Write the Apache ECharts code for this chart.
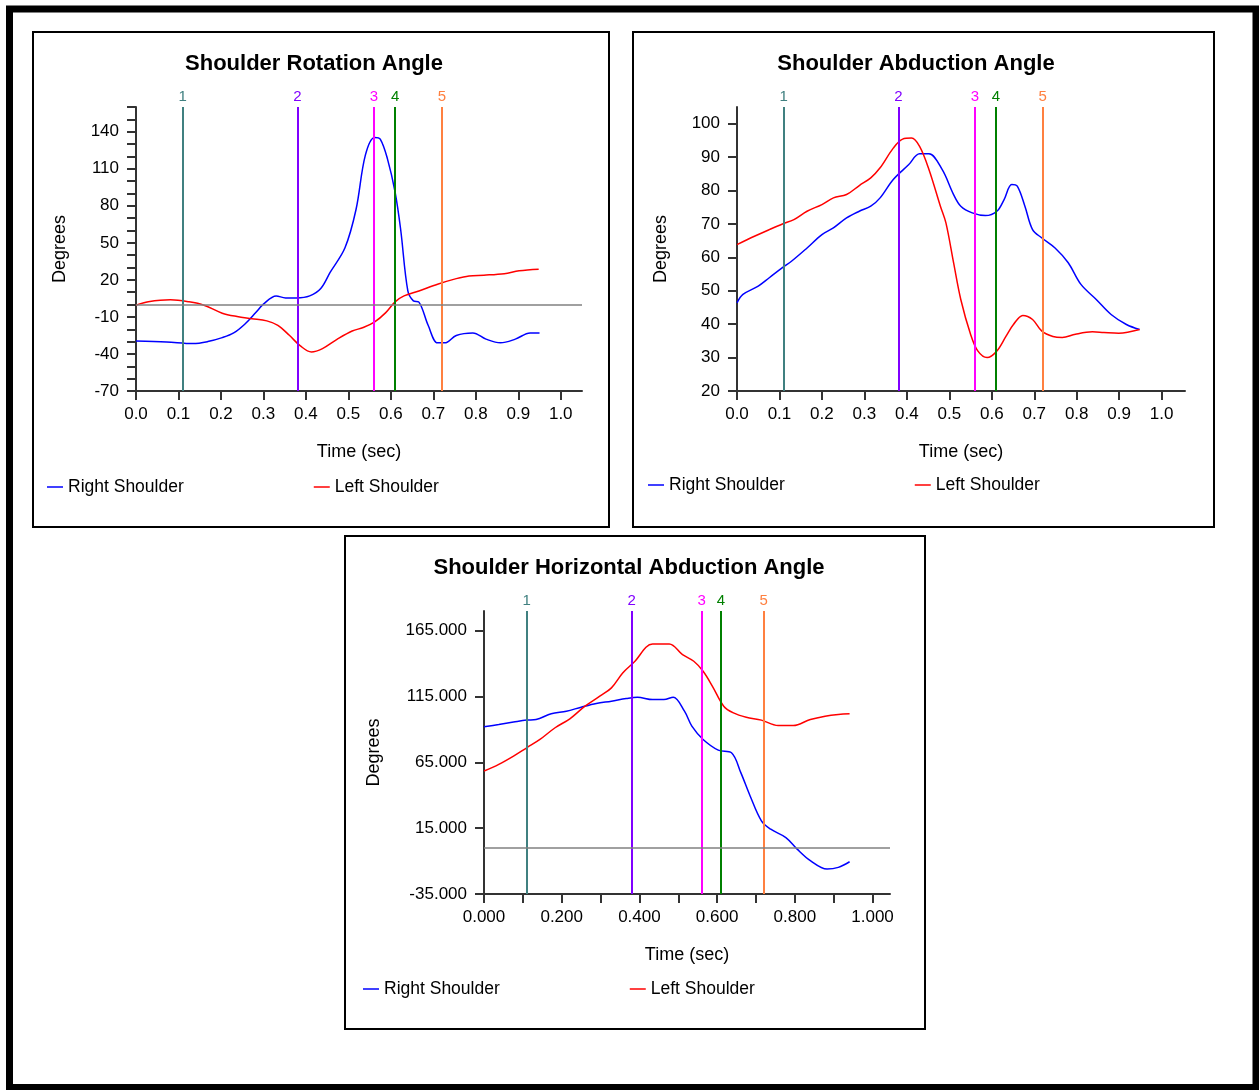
<!DOCTYPE html>
<html>
<head>
<meta charset="utf-8">
<title>Shoulder Angles</title>
<script src="https://cdn.jsdelivr.net/npm/echarts@6/dist/echarts.min.js"></script>
<style>
  html, body { margin: 0; padding: 0; background: #fff; }
  #chart { width: 1259px; height: 1090px; }
</style>
</head>
<body>
<div id="chart"></div>
<script>
  // event markers (sec)
  var eventTimes = [0.107, 0.382, 0.565, 0.610, 0.716];
  var eventNames = ['1', '2', '3', '4', '5'];
  var eventColors = ['#408080', '#8000ff', '#ff00ff', '#008000', '#ff8040'];

  // Shoulder Rotation Angle
  var rotationRight = [[0, -29.5], [0.072, -30.3], [0.134, -31.6], [0.169, -30], [0.203, -26.8], [0.23, -23],
    [0.256, -16], [0.282, -6.5], [0.3, 0.3], [0.33, 7], [0.352, 5.4], [0.378, 5.4], [0.409, 7], [0.435, 13],
    [0.457, 26], [0.492, 46], [0.518, 77], [0.54, 121], [0.562, 135.4], [0.575, 134], [0.592, 118], [0.61, 91],
    [0.623, 61], [0.64, 11], [0.653, 3], [0.666, 2], [0.688, -17], [0.71, -31], [0.727, -31], [0.754, -25],
    [0.793, -23], [0.824, -28], [0.858, -31], [0.893, -28], [0.928, -23], [0.95, -23]];
  var rotationLeft = [[0, -0.5], [0.029, 2.2], [0.081, 3.8], [0.125, 2.2], [0.16, -0.5], [0.203, -7], [0.238, -9.7],
    [0.273, -11.4], [0.308, -13.2], [0.334, -16.8], [0.361, -24.9], [0.387, -33.5], [0.413, -38.4], [0.439, -35.7],
    [0.474, -28], [0.509, -21.4], [0.535, -18.6], [0.562, -14], [0.588, -6.5], [0.61, 2.2], [0.631, 7], [0.666, 11],
    [0.71, 16.5], [0.754, 21], [0.784, 23.2], [0.819, 23.8], [0.867, 25], [0.902, 27.3], [0.948, 28.6]];

  // Shoulder Abduction Angle
  var abductionRight = [[0, 46.4], [0.014, 48.9], [0.05, 51.4], [0.076, 53.9], [0.107, 56.9], [0.129, 58.9],
    [0.165, 62.8], [0.2, 66.8], [0.227, 68.8], [0.258, 71.8], [0.288, 73.8], [0.315, 75.3], [0.337, 77.8],
    [0.368, 83.3], [0.404, 87.7], [0.43, 91], [0.452, 91], [0.483, 86.3], [0.51, 78.8], [0.527, 75.3],
    [0.554, 73.3], [0.585, 72.5], [0.612, 73.8], [0.629, 77.3], [0.647, 81.8], [0.66, 81.3], [0.678, 75.3],
    [0.696, 68.3], [0.718, 65.8], [0.749, 62.8], [0.78, 58.4], [0.81, 51.9], [0.846, 47.4], [0.881, 42.9],
    [0.917, 39.9], [0.948, 38.4]];
  var abductionLeft = [[0, 63.8], [0.041, 66.3], [0.076, 68.3], [0.107, 70], [0.134, 71.3], [0.165, 73.8],
    [0.2, 75.8], [0.227, 77.8], [0.258, 78.8], [0.288, 81.5], [0.315, 83.8], [0.337, 86.8], [0.368, 92.7],
    [0.39, 95.4], [0.411, 95.7], [0.43, 93.2], [0.452, 86.3], [0.479, 75.3], [0.492, 70.3], [0.51, 58.4],
    [0.527, 47.4], [0.55, 37], [0.567, 32], [0.589, 30], [0.612, 32], [0.634, 36.5], [0.651, 39.9], [0.673, 42.6],
    [0.696, 41.4], [0.718, 37.9], [0.744, 36.3], [0.766, 36], [0.797, 37], [0.837, 37.7], [0.864, 37.5],
    [0.899, 37.3], [0.948, 38.4]];

  // Shoulder Horizontal Abduction Angle
  var horizontalRight = [[0, 92], [0.038, 93.8], [0.076, 95.6], [0.11, 97.1], [0.134, 97.6], [0.173, 101.9],
    [0.212, 103.9], [0.25, 106.9], [0.289, 109.7], [0.328, 111.5], [0.366, 113.5], [0.395, 114.5], [0.434, 112.7],
    [0.463, 112.7], [0.487, 114.5], [0.516, 103.9], [0.535, 92.5], [0.564, 82.4], [0.603, 74.3], [0.637, 72.3],
    [0.661, 57.2], [0.685, 39.5], [0.714, 20.6], [0.738, 14.2], [0.777, 7.9], [0.806, -0.9], [0.84, -9.7],
    [0.883, -16.1], [0.912, -14.8], [0.941, -10.5]];
  var horizontalLeft = [[0, 58.4], [0.038, 63.5], [0.076, 69.8], [0.11, 76.1], [0.144, 82.4], [0.183, 91.3],
    [0.221, 98.1], [0.26, 107.7], [0.298, 115.3], [0.328, 121.6], [0.357, 132.9], [0.386, 141], [0.434, 154.9],
    [0.477, 154.9], [0.511, 146.8], [0.54, 141.8], [0.564, 134.2], [0.588, 122.8], [0.617, 107.7], [0.642, 102.6],
    [0.675, 99.3], [0.714, 97.1], [0.757, 93], [0.796, 93], [0.84, 97.6], [0.878, 100.1], [0.912, 101.4],
    [0.941, 101.9]];

  // tick / label values
  var timeTicks = [0, 0.1, 0.2, 0.3, 0.4, 0.5, 0.6, 0.7, 0.8, 0.9, 1.0];
  var timeLabels3 = [0, 0.2, 0.4, 0.6, 0.8, 1.0];
  var rotTicks = [-70, -60, -50, -40, -30, -20, -10, 0, 10, 20, 30, 40, 50, 60, 70, 80, 90, 100, 110, 120, 130, 140, 150, 160];
  var rotLabels = [-70, -40, -10, 20, 50, 80, 110, 140];
  var abdTicks = [20, 30, 40, 50, 60, 70, 80, 90, 100];
  var horTicks = [-35, 15, 65, 115, 165];

  var FONT = 'Liberation Sans, Arial, sans-serif';
  var myChart = echarts.init(document.getElementById('chart'));

  function xAxisOf(idx, max, labels, digits) {
    return {
      type: 'value', gridIndex: idx, min: 0, max: max,
      name: 'Time (sec)', nameLocation: 'middle', nameGap: 52,
      nameTextStyle: {color: '#000', fontFamily: FONT, fontSize: 18},
      axisLine: {onZero: false, lineStyle: {color: '#333', width: 2}},
      axisTick: {customValues: timeTicks, length: 9, lineStyle: {color: '#333', width: 2}},
      axisLabel: {customValues: labels, margin: 15, color: '#000', fontFamily: FONT, fontSize: 17,
        formatter: function (v) { return v.toFixed(digits); }},
      splitLine: {show: false}
    };
  }

  function yAxisOf(idx, min, max, ticks, labels, digits, gap) {
    return {
      type: 'value', gridIndex: idx, min: min, max: max,
      name: 'Degrees', nameLocation: 'middle', nameGap: gap, nameRotate: 90,
      nameTextStyle: {color: '#000', fontFamily: FONT, fontSize: 18},
      axisLine: {onZero: false, lineStyle: {color: '#333', width: 2}},
      axisTick: {customValues: ticks, length: 9, lineStyle: {color: '#333', width: 2}},
      axisLabel: {customValues: labels, margin: 17, color: '#000', fontFamily: FONT, fontSize: 17,
        formatter: function (v) { return v.toFixed(digits); }},
      splitLine: {show: false}
    };
  }

  function markers(zeroLine) {
    var data = eventTimes.map(function (t, i) {
      return {
        xAxis: t,
        lineStyle: {color: eventColors[i], width: 2, type: 'solid'},
        label: {show: true, position: 'end', distance: 3, formatter: eventNames[i], color: eventColors[i],
          fontFamily: FONT, fontSize: 15}
      };
    });
    if (zeroLine) {
      data.push({yAxis: 0, lineStyle: {color: '#808080', width: 1.5, type: 'solid'}, label: {show: false}});
    }
    return {silent: true, symbol: ['none', 'none'], animation: false, data: data};
  }

  function lineSeries(name, color, idx, data, mark) {
    var s = {
      name: name, type: 'line', xAxisIndex: idx, yAxisIndex: idx, data: data,
      showSymbol: false, smooth: 0.35,
      lineStyle: {color: color, width: 1.5}, itemStyle: {color: color}
    };
    if (mark) s.markLine = mark;
    return s;
  }

  function legendAt(left, top) {
    return {
      left: left, top: top, padding: 0, itemGap: 130, icon: 'rect', itemWidth: 16, itemHeight: 1.5,
      selectedMode: false,
      textStyle: {color: '#000', fontFamily: FONT, fontSize: 17.5},
      data: ['Right Shoulder', 'Left Shoulder']
    };
  }

  function titleAt(text, x, y) {
    return {text: text, left: x, top: y, textAlign: 'center', padding: 0,
      textStyle: {color: '#000', fontFamily: FONT, fontSize: 22, fontWeight: 'bold'}};
  }

  var option = {
    backgroundColor: '#fff',
    animation: false,
    title: [
      titleAt('Shoulder Rotation Angle', 314, 53),
      titleAt('Shoulder Abduction Angle', 916, 53),
      titleAt('Shoulder Horizontal Abduction Angle', 629, 557)
    ],
    legend: [legendAt(47, 478), legendAt(648, 476), legendAt(363, 980)],
    grid: [
      {left: 136, top: 107, width: 446, height: 284},
      {left: 737, top: 107, width: 448, height: 284},
      {left: 484, top: 611, width: 406, height: 283}
    ],
    xAxis: [
      xAxisOf(0, 1.05, timeTicks, 1),
      xAxisOf(1, 1.055, timeTicks, 1),
      xAxisOf(2, 1.045, timeLabels3, 3)
    ],
    yAxis: [
      yAxisOf(0, -70, 160, rotTicks, rotLabels, 0, 67),
      yAxisOf(1, 20, 105, abdTicks, abdTicks, 0, 67),
      yAxisOf(2, -35, 180, horTicks, horTicks, 3, 101)
    ],
    series: [
      lineSeries('Right Shoulder', '#0000ff', 0, rotationRight, markers(true)),
      lineSeries('Left Shoulder', '#ff0000', 0, rotationLeft),
      lineSeries('Right Shoulder', '#0000ff', 1, abductionRight, markers(false)),
      lineSeries('Left Shoulder', '#ff0000', 1, abductionLeft),
      lineSeries('Right Shoulder', '#0000ff', 2, horizontalRight, markers(true)),
      lineSeries('Left Shoulder', '#ff0000', 2, horizontalLeft)
    ],
    graphic: [
      {type: 'rect', silent: true, shape: {x: 9.5, y: 9, width: 1246.5, height: 1078.5},
        style: {fill: null, stroke: '#000', lineWidth: 7}},
      {type: 'rect', silent: true, shape: {x: 33, y: 32, width: 576, height: 495},
        style: {fill: null, stroke: '#000', lineWidth: 2}},
      {type: 'rect', silent: true, shape: {x: 633, y: 32, width: 581, height: 495},
        style: {fill: null, stroke: '#000', lineWidth: 2}},
      {type: 'rect', silent: true, shape: {x: 345, y: 536, width: 580, height: 493},
        style: {fill: null, stroke: '#000', lineWidth: 2}}
    ]
  };

  myChart.setOption(option);
</script>
</body>
</html>
